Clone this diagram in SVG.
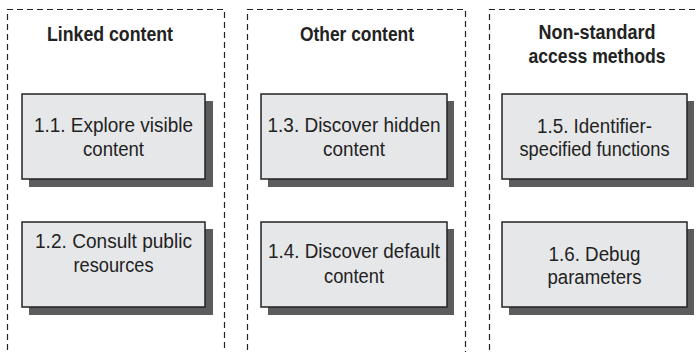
<svg xmlns="http://www.w3.org/2000/svg" width="698" height="352" viewBox="0 0 698 352">
<style>
.panel{fill:none;stroke:#222;stroke-width:1.2;stroke-dasharray:6 4}
.shadow{fill:#5c5c5e}
.box{fill:#e6e7e9;stroke:#222;stroke-width:1.5}
.title{font-family:"Liberation Sans",Arial,sans-serif;font-weight:bold;font-size:20px;fill:#222;text-anchor:middle}
.lbl{font-family:"Liberation Sans",Arial,sans-serif;font-size:20.5px;fill:#222;text-anchor:middle}
</style>
<rect width="698" height="352" fill="#fff"/>
<g id="panels">
<path class="panel" d="M7.5,360 V9.5 H224.5 V360"/>
<path class="panel" d="M247.5,360 V9.5 H465.5 V360"/>
<path class="panel" d="M489.5,360 V9.5 H710"/>
</g>
<g id="titles">
<text class="title" x="110" y="41" textLength="126" lengthAdjust="spacingAndGlyphs">Linked content</text>
<text class="title" x="357" y="41" textLength="114" lengthAdjust="spacingAndGlyphs">Other content</text>
<text class="title" x="597" y="39" textLength="117" lengthAdjust="spacingAndGlyphs">Non-standard</text>
<text class="title" x="597" y="63" textLength="137" lengthAdjust="spacingAndGlyphs">access methods</text>
</g>
<g id="n11">
<rect class="shadow" x="29" y="101" width="184" height="86"/>
<rect class="box" x="22" y="94" width="183" height="85"/>
<text class="lbl" x="113.5" y="132" textLength="159" lengthAdjust="spacingAndGlyphs">1.1. Explore visible</text>
<text class="lbl" x="113.5" y="156" textLength="61" lengthAdjust="spacingAndGlyphs">content</text>
</g>
<g id="n12">
<rect class="shadow" x="29" y="229" width="184" height="86"/>
<rect class="box" x="22" y="222" width="183" height="85"/>
<text class="lbl" x="113.5" y="248" textLength="157" lengthAdjust="spacingAndGlyphs">1.2. Consult public</text>
<text class="lbl" x="113.5" y="272" textLength="80" lengthAdjust="spacingAndGlyphs">resources</text>
</g>
<g id="n13">
<rect class="shadow" x="268" y="101" width="186" height="86"/>
<rect class="box" x="261" y="94" width="186" height="85"/>
<text class="lbl" x="354" y="132" textLength="173" lengthAdjust="spacingAndGlyphs">1.3. Discover hidden</text>
<text class="lbl" x="354" y="156" textLength="62" lengthAdjust="spacingAndGlyphs">content</text>
</g>
<g id="n14">
<rect class="shadow" x="268" y="229" width="186" height="86"/>
<rect class="box" x="261" y="222" width="186" height="85"/>
<text class="lbl" x="354" y="258" textLength="172" lengthAdjust="spacingAndGlyphs">1.4. Discover default</text>
<text class="lbl" x="354" y="283" textLength="60" lengthAdjust="spacingAndGlyphs">content</text>
</g>
<g id="n15">
<rect class="shadow" x="509" y="101" width="185" height="86"/>
<rect class="box" x="502" y="94" width="185" height="85"/>
<text class="lbl" x="594.5" y="133" textLength="115" lengthAdjust="spacingAndGlyphs">1.5. Identifier-</text>
<text class="lbl" x="594.5" y="156" textLength="150" lengthAdjust="spacingAndGlyphs">specified functions</text>
</g>
<g id="n16">
<rect class="shadow" x="509" y="229" width="185" height="86"/>
<rect class="box" x="502" y="222" width="185" height="85"/>
<text class="lbl" x="594.5" y="261" textLength="92" lengthAdjust="spacingAndGlyphs">1.6. Debug</text>
<text class="lbl" x="594.5" y="284" textLength="94" lengthAdjust="spacingAndGlyphs">parameters</text>
</g>
<g id="connectors"></g>
</svg>
